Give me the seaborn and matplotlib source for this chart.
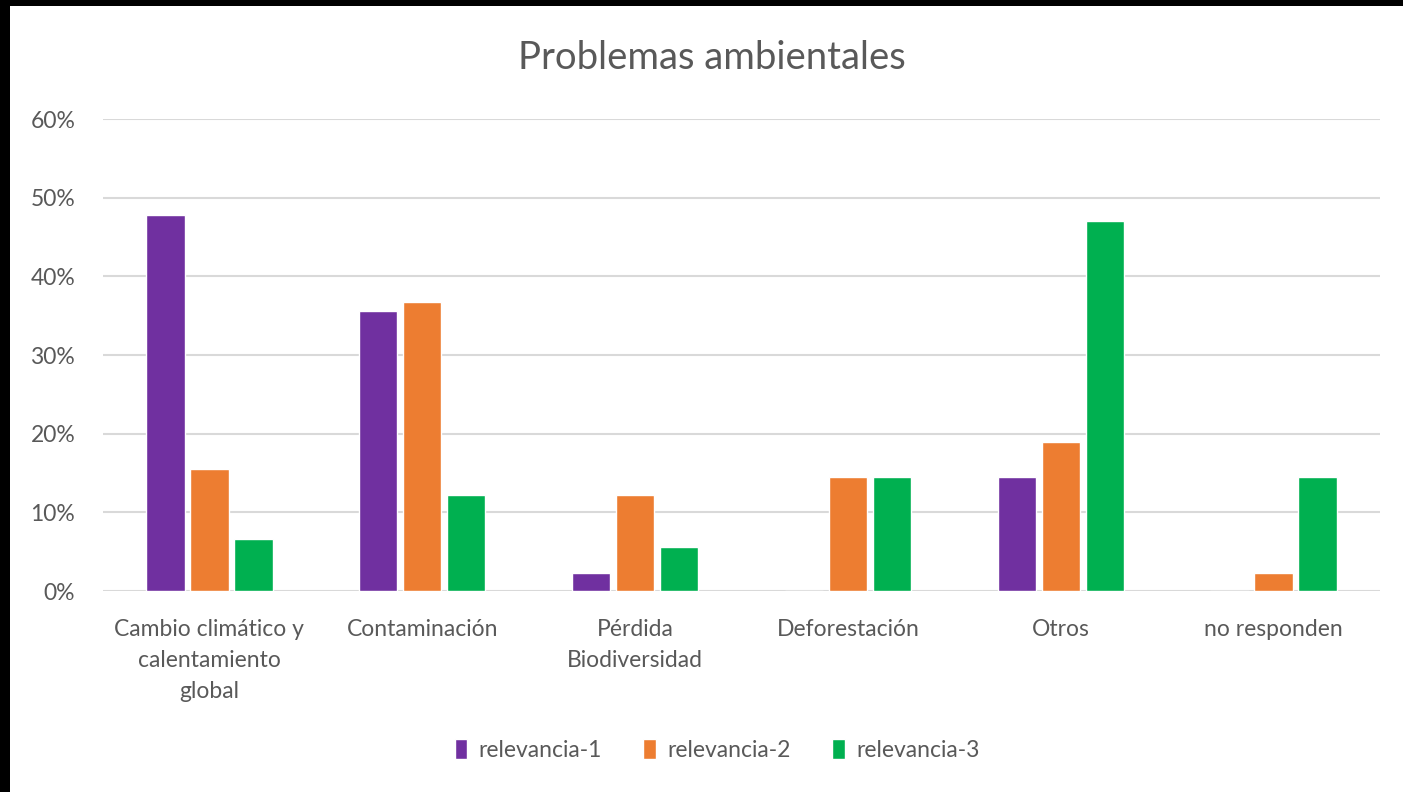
import numpy as np
import pandas as pd
import matplotlib
matplotlib.use("Agg")
import matplotlib.pyplot as plt
from matplotlib.patches import Rectangle
import seaborn as sns

# chart data
categorias = ["Cambio climático y\ncalentamiento\nglobal", "Contaminación",
              "Pérdida\nBiodiversidad", "Deforestación", "Otros", "no responden"]
relevancia_1 = [0.478, 0.356, 0.023, 0.0, 0.145, 0.0]
relevancia_2 = [0.155, 0.367, 0.122, 0.145, 0.189, 0.023]
relevancia_3 = [0.066, 0.122, 0.056, 0.145, 0.470, 0.145]
series = ["relevancia-1", "relevancia-2", "relevancia-3"]
colores = ["#7030a0", "#ed7d31", "#00b050"]
yticks = [0.0, 0.1, 0.2, 0.3, 0.4, 0.5, 0.6]

df = pd.DataFrame({"categoria": categorias * 3,
                   "serie": np.repeat(series, len(categorias)),
                   "valor": relevancia_1 + relevancia_2 + relevancia_3})

sns.set_theme(style="white")
plt.rcParams["font.family"] = ["Lato", "DejaVu Sans"]
txt = "#595959"

fig = plt.figure(figsize=(14.03, 7.92), dpi=100)
fig.patch.set_facecolor("black")
fig.patches.append(Rectangle((10 / 1403, -0.01), 1, 1.01 - 6 / 792, transform=fig.transFigure,
                             facecolor="white", edgecolor="none", zorder=-1))
ax = fig.add_axes([103 / 1403, 1 - 591 / 792, 1277 / 1403, 472 / 792])
ax.set_facecolor("white")

sns.barplot(data=df, x="categoria", y="valor", hue="serie", palette=colores,
            saturation=1, width=0.62, gap=0.13, ax=ax, legend=True)

ax.set_ylim(0, 0.6)
ax.set_yticks(yticks)
ax.set_yticklabels([f"{int(round(t * 100))}%" for t in yticks], color=txt, fontsize=16.5)
ax.tick_params(axis="x", labelsize=16.5, labelcolor=txt, pad=20, length=0)
ax.tick_params(axis="y", pad=20, length=0)
for lab in ax.get_xticklabels():
    lab.set_linespacing(1.6)
ax.yaxis.grid(True, color="#d9d9d9", lw=1.5)
ax.set_axisbelow(True)
for s in ax.spines.values():
    s.set_visible(False)
ax.set_xlabel("")
ax.set_ylabel("")

fig.text(712 / 1403, 1 - 58 / 792, "Problemas ambientales", ha="center", va="center",
         fontsize=27.5, color=txt)

handles, labels = ax.get_legend_handles_labels()
ax.get_legend().remove()
fig.legend(handles, labels, loc="center", bbox_to_anchor=(717 / 1403, 1 - 750 / 792),
           ncol=3, frameon=False, fontsize=16.5, labelcolor=txt, handlelength=0.55,
           handleheight=1.0, handletextpad=0.5, columnspacing=1.8)

fig.savefig("out.png", dpi=100, facecolor=fig.get_facecolor())
